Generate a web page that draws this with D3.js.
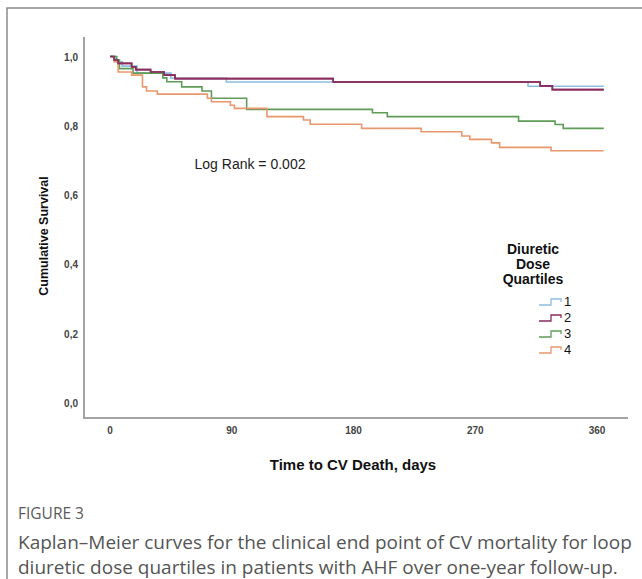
<!DOCTYPE html>
<html><head><meta charset="utf-8">
<script src="https://cdn.jsdelivr.net/npm/d3@7"></script>
<style>body{margin:0;background:#fff}svg{display:block}</style>
</head><body>
<svg id="c" width="642" height="579"></svg>
<script>
const seriesNames = ["1","2","3","4"];
const colors = ["#8dbde0","#8a2d5e","#5e9c58","#e8986c"];
const t1 = [0,4,9,20,45,86,309,365];
const s1 = [1,0.985,0.972,0.952,0.937,0.926,0.914,0.914];
const t2 = [0,3,6,16,19,30,40,48,165,318,327,365];
const s2 = [1,0.99,0.98,0.97,0.962,0.955,0.946,0.936,0.926,0.915,0.904,0.904];
const t3 = [0,5,7,17,39,42,53,68,75,101,194,205,302,329,335,365];
const s3 = [1,0.99,0.965,0.952,0.938,0.927,0.912,0.90,0.879,0.847,0.837,0.826,0.813,0.803,0.792,0.792];
const t4 = [0,3,6,16,24,27,35,72,75,89,92,116,143,148,186,230,260,266,282,288,326,365];
const s4 = [1,0.985,0.955,0.946,0.912,0.90,0.891,0.879,0.869,0.859,0.85,0.826,0.816,0.804,0.792,0.782,0.77,0.76,0.75,0.737,0.727,0.727];
const xTicks = [0,90,180,270,360];
const yTicks = [0,0.2,0.4,0.6,0.8,1.0];
const yTickLabels = ["0,0","0,2","0,4","0,6","0,8","1,0"];
const times = [t1,t2,t3,t4], surv = [s1,s2,s3,s4];

const svg = d3.select("#c");
const x = d3.scaleLinear().domain([0,360]).range([110,597]);
const y = d3.scaleLinear().domain([0,1]).range([402,56.5]);

// figure frame
svg.append("path").attr("d","M7,579V8H642").attr("fill","none").attr("stroke","#8a8a8a").attr("stroke-width",1.5);

// axes
svg.append("line").attr("x1",84).attr("x2",84).attr("y1",37).attr("y2",418).attr("stroke","#a3a3a3").attr("stroke-width",2);
svg.append("line").attr("x1",83).attr("x2",628).attr("y1",418).attr("y2",418).attr("stroke","#a3a3a3").attr("stroke-width",2);

svg.append("g").selectAll("text").data(yTicks).join("text")
  .attr("x",78).attr("y",d=>y(d)+2).attr("text-anchor","end").attr("dominant-baseline","middle")
  .attr("font-family","Liberation Sans, Arial, sans-serif").attr("font-size",10).attr("font-weight","bold").attr("fill","#444")
  .text((d,i)=>yTickLabels[i]);
svg.append("g").selectAll("text").data(xTicks).join("text")
  .attr("x",d=>x(d)).attr("y",431).attr("text-anchor","middle").attr("dominant-baseline","middle")
  .attr("font-family","Liberation Sans, Arial, sans-serif").attr("font-size",10).attr("font-weight","bold").attr("fill","#444")
  .text(d=>d);

svg.append("text").attr("x",353).attr("y",466).attr("text-anchor","middle").attr("dominant-baseline","middle")
  .attr("font-family","Liberation Sans, Arial, sans-serif").attr("font-size",15).attr("font-weight","bold").attr("fill","#111")
  .text("Time to CV Death, days");
svg.append("text").attr("transform","translate(45,236) rotate(-90)").attr("text-anchor","middle").attr("dominant-baseline","middle")
  .attr("font-family","Liberation Sans, Arial, sans-serif").attr("font-size",12.5).attr("font-weight","bold").attr("fill","#111")
  .text("Cumulative Survival");
svg.append("text").attr("x",250).attr("y",165).attr("text-anchor","middle").attr("dominant-baseline","middle")
  .attr("font-family","Liberation Sans, Arial, sans-serif").attr("font-size",14).attr("fill","#222")
  .text("Log Rank = 0.002");

// curves
const line = d3.line().x(d=>x(d[0])).y(d=>y(d[1])).curve(d3.curveStepAfter);
times.forEach((t,i)=>{
  const pts = t.map((d,j)=>[d,surv[i][j]]);
  svg.append("path").attr("d",line(pts)).attr("fill","none").attr("stroke",colors[i]).attr("stroke-width",1.6);
});
{
  const pts = t2.map((d,j)=>[d,s2[j]]);
  svg.append("path").attr("d",line(pts)).attr("fill","none").attr("stroke",colors[1]).attr("stroke-width",1.6);
}

// legend
const lg = svg.append("g");
["Diuretic","Dose","Quartiles"].forEach((s,i)=>{
  lg.append("text").attr("x",533).attr("y",250+i*15).attr("text-anchor","middle").attr("dominant-baseline","middle")
    .attr("font-family","Liberation Sans, Arial, sans-serif").attr("font-size",14).attr("font-weight","bold").attr("fill","#111").text(s);
});
seriesNames.forEach((s,i)=>{
  const yy = 302 + i*16;
  lg.append("path").attr("d",`M539,${yy+3}H551V${yy-3}H561V${yy}`).attr("fill","none").attr("stroke",colors[i]).attr("stroke-width",1.3);
  lg.append("text").attr("x",564).attr("y",yy+1).attr("dominant-baseline","middle")
    .attr("font-family","Liberation Sans, Arial, sans-serif").attr("font-size",13).attr("fill","#111").text(s);
});

// caption
svg.append("text").attr("x",18).attr("y",519).attr("font-family","Open Sans, sans-serif").attr("font-size",15.5).attr("fill","#5a5a5a").text("FIGURE 3");
svg.append("text").attr("x",18).attr("y",549).attr("font-family","Open Sans, sans-serif").attr("font-size",19).attr("fill","#555").text("Kaplan–Meier curves for the clinical end point of CV mortality for loop");
svg.append("text").attr("x",18).attr("y",574).attr("font-family","Open Sans, sans-serif").attr("font-size",19).attr("fill","#555").text("diuretic dose quartiles in patients with AHF over one-year follow-up.");
</script>
</body></html>
